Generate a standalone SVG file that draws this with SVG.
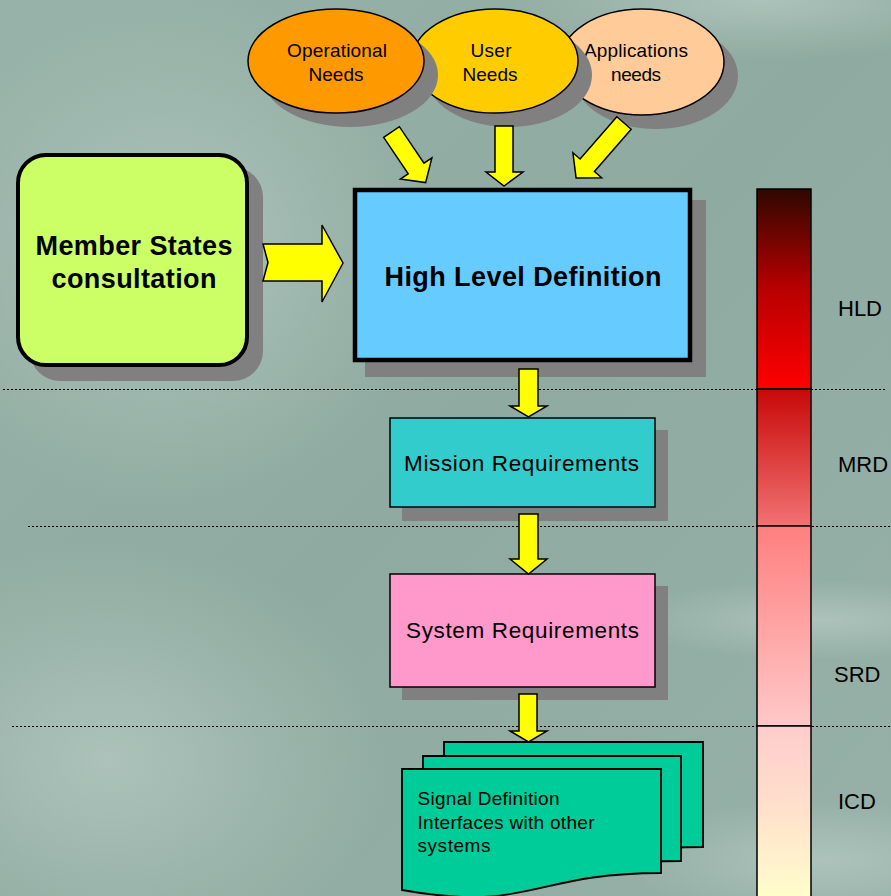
<svg xmlns="http://www.w3.org/2000/svg" width="891" height="896" viewBox="0 0 891 896">
<defs>
<style>
.t{font-family:"Liberation Sans",Arial,sans-serif;fill:#000}
.b{font-weight:bold}
.sh{fill:#808080}
.arr{fill:#FFFF00;stroke:#000;stroke-width:1.5;stroke-linejoin:miter}
.dot{stroke:#000;stroke-width:1;stroke-dasharray:2,2;fill:none}
.seg{stroke:#000;stroke-width:1.5}
.doc{fill:#00CC99;stroke:#000;stroke-width:1.8}
</style>
<linearGradient id="bg" x1="0" y1="0" x2="1" y2="1">
<stop offset="0" stop-color="#97B2A8"/>
<stop offset="0.5" stop-color="#8FAAA0"/>
<stop offset="1" stop-color="#97B1A8"/>
</linearGradient>
<radialGradient id="l1" cx="0.5" cy="0.5" r="0.5">
<stop offset="0" stop-color="#AFC5BD" stop-opacity="0.9"/>
<stop offset="1" stop-color="#AFC5BD" stop-opacity="0"/>
</radialGradient>
<linearGradient id="g1" x1="0" y1="0" x2="0" y2="1">
<stop offset="0" stop-color="#2E0800"/>
<stop offset="0.5" stop-color="#B80000"/>
<stop offset="1" stop-color="#FF0000"/>
</linearGradient>
<linearGradient id="g2" x1="0" y1="0" x2="0" y2="1">
<stop offset="0" stop-color="#C80808"/>
<stop offset="1" stop-color="#F27272"/>
</linearGradient>
<linearGradient id="g3" x1="0" y1="0" x2="0" y2="1">
<stop offset="0" stop-color="#FF7F7F"/>
<stop offset="1" stop-color="#FFC8C8"/>
</linearGradient>
<linearGradient id="g4" x1="0" y1="0" x2="0" y2="1">
<stop offset="0" stop-color="#FFCCCC"/>
<stop offset="0.5" stop-color="#FFE2CC"/>
<stop offset="1" stop-color="#FFFFCC"/>
</linearGradient>
</defs>

<rect x="0" y="0" width="891" height="896" fill="url(#bg)"/>
<ellipse cx="170" cy="250" rx="260" ry="260" fill="url(#l1)"/>
<ellipse cx="110" cy="760" rx="280" ry="220" fill="url(#l1)"/>
<ellipse cx="760" cy="0" rx="260" ry="60" fill="url(#l1)"/>
<ellipse cx="820" cy="620" rx="200" ry="40" fill="url(#l1)"/>
<ellipse cx="820" cy="860" rx="200" ry="60" fill="url(#l1)"/>

<g id="dividers">
<line class="dot" x1="3" y1="389.5" x2="887" y2="389.5"/>
<line class="dot" x1="28" y1="526.5" x2="891" y2="526.5"/>
<line class="dot" x1="12" y1="726.5" x2="891" y2="726.5"/>
</g>

<g id="scale">
<rect class="seg" x="757" y="189" width="54" height="200" fill="url(#g1)"/>
<rect class="seg" x="757" y="389" width="54" height="137" fill="url(#g2)"/>
<rect class="seg" x="757" y="526" width="54" height="200" fill="url(#g3)"/>
<rect class="seg" x="757" y="726" width="54" height="175" fill="url(#g4)"/>
<text class="t" x="838" y="316" font-size="22">HLD</text>
<text class="t" x="838" y="472" font-size="22">MRD</text>
<text class="t" x="834" y="682" font-size="22">SRD</text>
<text class="t" x="838" y="809" font-size="22">ICD</text>
</g>

<g id="applications-needs">
<ellipse class="sh" cx="656" cy="76" rx="82" ry="53"/>
<ellipse cx="642" cy="62" rx="82" ry="53" fill="#FFCC99" stroke="#000" stroke-width="1.5"/>
<text class="t" x="636" y="57" font-size="19" text-anchor="middle" textLength="104">Applications</text>
<text class="t" x="636" y="81" font-size="19" text-anchor="middle" textLength="50">needs</text>
</g>
<g id="user-needs">
<ellipse class="sh" cx="509" cy="75" rx="83" ry="52"/>
<ellipse cx="495" cy="61" rx="83" ry="52" fill="#FFCC00" stroke="#000" stroke-width="1.5"/>
<text class="t" x="491" y="57" font-size="19" text-anchor="middle" textLength="41">User</text>
<text class="t" x="490" y="81" font-size="19" text-anchor="middle" textLength="55">Needs</text>
</g>
<g id="operational-needs">
<ellipse class="sh" cx="350" cy="75" rx="88" ry="52"/>
<ellipse cx="336" cy="61" rx="88" ry="52" fill="#FF9900" stroke="#000" stroke-width="1.5"/>
<text class="t" x="337" y="57" font-size="19" text-anchor="middle" textLength="100">Operational</text>
<text class="t" x="336" y="81" font-size="19" text-anchor="middle" textLength="55">Needs</text>
</g>

<g id="member-states">
<rect class="sh" x="30" y="167" width="233" height="214" rx="30"/>
<rect x="18" y="155" width="229" height="210" rx="28" fill="#CCFF66" stroke="#000" stroke-width="4"/>
<text class="t b" x="134" y="255" font-size="27" text-anchor="middle" textLength="197">Member States</text>
<text class="t b" x="134" y="288" font-size="27" text-anchor="middle" textLength="165">consultation</text>
</g>

<g id="high-level-definition">
<rect class="sh" x="365" y="200" width="341" height="177"/>
<rect x="355" y="190" width="335" height="170" fill="#66CCFF" stroke="#000" stroke-width="4.5"/>
<text class="t b" x="523" y="286" font-size="27" text-anchor="middle" textLength="277">High Level Definition</text>
</g>

<g id="mission-requirements">
<rect class="sh" x="402" y="430" width="266" height="91"/>
<rect x="390" y="418" width="265" height="89" fill="#33CCCC" stroke="#000" stroke-width="1.5"/>
<text class="t" x="521.5" y="471" font-size="22.5" text-anchor="middle" textLength="235">Mission Requirements</text>
</g>

<g id="system-requirements">
<rect class="sh" x="402" y="586" width="266" height="114"/>
<rect x="390" y="574" width="265" height="113" fill="#FF99CC" stroke="#000" stroke-width="1.5"/>
<text class="t" x="522.5" y="638" font-size="22.5" text-anchor="middle" textLength="233">System Requirements</text>
</g>

<g id="signal-definition">
<path class="doc" d="M444,742 H703 V847 C573.5,847 573.5,887 444,864 Z"/>
<path class="doc" d="M423,756 H681 V861 C552,861 552,901 423,878 Z"/>
<path class="doc" d="M402,769 H661 V873 C531.5,873 531.5,913 402,890 Z"/>
<text class="t" x="417.5" y="805" font-size="19" textLength="142">Signal Definition</text>
<text class="t" x="417.5" y="829" font-size="19" textLength="177">Interfaces with other</text>
<text class="t" x="417.5" y="852" font-size="19" textLength="73">systems</text>
</g>

<g id="connectors">
<polygon class="arr" transform="translate(391.5,132) rotate(-34)" points="-9.5,0 9.5,0 9.5,44 19,44 0,61 -19,44 -9.5,44"/>
<polygon class="arr" points="495,126 513,126 513,172 523,172 504,186 486,172 495,172"/>
<polygon class="arr" transform="translate(624,123) rotate(41)" points="-9.5,0 9.5,0 9.5,56 19,56 0,73 -19,56 -9.5,56"/>
<polygon class="arr" points="263,244 322,244 322,225 343,263 322,302 322,281 263,281 268,262.5"/>
<polygon class="arr" points="519,369 538,369 538,406 547,406 528.5,417 510,406 519,406"/>
<polygon class="arr" points="519,514 538,514 538,559 547,559 528.5,574 510,559 519,559"/>
<polygon class="arr" points="519,694 537,694 537,731 547,731 528.5,742 510,731 519,731"/>
</g>
</svg>
